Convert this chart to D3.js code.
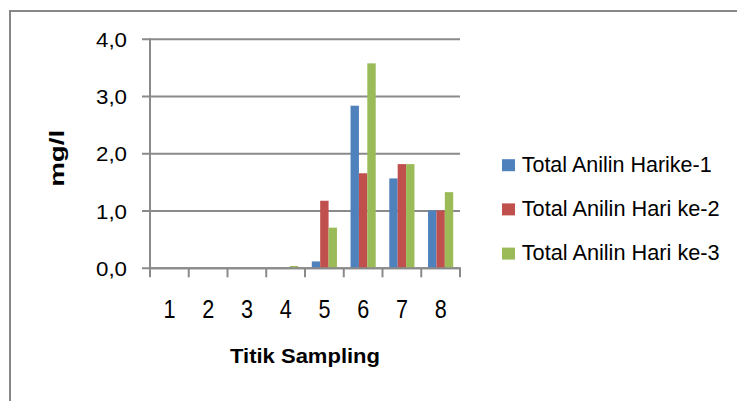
<!DOCTYPE html>
<html><head><meta charset="utf-8">
<script src="https://cdn.jsdelivr.net/npm/d3@7"></script>
<style>
html,body{margin:0;padding:0;background:#fff;}
text{font-family:"Liberation Sans Narrow","Arial Narrow","Liberation Sans",Arial,sans-serif;fill:#000;}
</style></head>
<body><svg id="c" width="737" height="401"></svg>
<script>
const categories = ["1","2","3","4","5","6","7","8"];
const seriesNames = ["Total Anilin Harike-1","Total Anilin Hari ke-2","Total Anilin Hari ke-3"];
const hari1 = [0,0,0,0,0.12,2.84,1.57,1.01];
const hari2 = [0,0,0,0,1.18,1.66,1.82,1.01];
const hari3 = [0,0,0,0.04,0.71,3.58,1.82,1.33];
const yTicks = [0,1,2,3,4];
const colors = ["#4F81BD","#C0504D","#9BBB59"];
const seriesValues = [hari1,hari2,hari3];

const svg = d3.select("#c");
svg.append("rect").attr("x",10).attr("y",11).attr("width",740).attr("height",400)
  .attr("fill","#fff").attr("stroke","#878787").attr("stroke-width",2);

const x = d3.scaleBand().domain(categories).range([150,460]).paddingInner(0).paddingOuter(0);
const x1 = d3.scaleBand().domain(d3.range(3)).range([0,x.bandwidth()]).paddingInner(0).paddingOuter(0.81);
const y = d3.scaleLinear().domain([0,4]).range([268.3,39.3]);
const fmt = v => d3.format(".1f")(v).replace(".",",");

function fit(sel,w){ sel.attr("textLength",w).attr("lengthAdjust","spacingAndGlyphs"); }

// gridlines
svg.append("g").selectAll("line").data(yTicks).join("line")
  .attr("x1",142).attr("x2",460).attr("y1",d=>y(d)).attr("y2",d=>y(d))
  .attr("stroke","#8a8a8a").attr("stroke-width",2);

// bars
const g = svg.append("g");
seriesValues.forEach((vals,si)=>{
  g.append("g").selectAll("rect").data(vals.map((v,i)=>({c:categories[i],v}))).join("rect")
    .attr("x",d=>x(d.c)+x1(si)).attr("width",x1.bandwidth())
    .attr("y",d=>y(d.v)).attr("height",d=>y(0)-y(d.v))
    .attr("fill",colors[si]);
});

// y axis line
svg.append("line").attr("x1",150).attr("x2",150).attr("y1",y(4)-1).attr("y2",y(0)+1)
  .attr("stroke","#8a8a8a").attr("stroke-width",2);
// x axis line
svg.append("line").attr("x1",149).attr("x2",461).attr("y1",y(0)).attr("y2",y(0))
  .attr("stroke","#8a8a8a").attr("stroke-width",2);
// x ticks at boundaries
const bounds = categories.map(c=>x(c)).concat([x.range()[1]]);
svg.append("g").selectAll("line").data(bounds).join("line")
  .attr("x1",d=>d).attr("x2",d=>d).attr("y1",y(0)).attr("y2",y(0)+9)
  .attr("stroke","#8a8a8a").attr("stroke-width",2);

// y labels
svg.append("g").selectAll("text").data(yTicks).join("text")
  .attr("x",127).attr("y",d=>y(d)+7.6).attr("text-anchor","end")
  .style("font-size","21px").text(d=>fmt(d))
  .each(function(){ fit(d3.select(this),31); });

// x labels
svg.append("g").selectAll("text").data(categories).join("text")
  .attr("x",d=>x(d)+x.bandwidth()/2).attr("y",318.3).attr("text-anchor","middle")
  .style("font-size","25px").text(d=>d)
  .each(function(){ fit(d3.select(this),12); });

// axis titles
const xt = svg.append("text").attr("x",305).attr("y",363.3).attr("text-anchor","middle")
  .style("font-size","21px").style("font-weight","bold").text("Titik Sampling");
fit(xt,150);
const yt = svg.append("text").attr("transform","translate(64,158.3) rotate(-90)").attr("text-anchor","middle")
  .style("font-size","21px").style("font-weight","bold").text("mg/l");
fit(yt,57);

// legend
const leg = svg.append("g");
const widths = [190,198,198];
seriesNames.forEach((n,i)=>{
  const by = 171.7 + i*44.2;
  leg.append("rect").attr("x",502).attr("y",by-12.5).attr("width",13).attr("height",12).attr("fill",colors[i]);
  const t = leg.append("text").attr("x",521.7).attr("y",by).style("font-size","21.5px").text(n);
  fit(t,widths[i]);
});
</script></body></html>
